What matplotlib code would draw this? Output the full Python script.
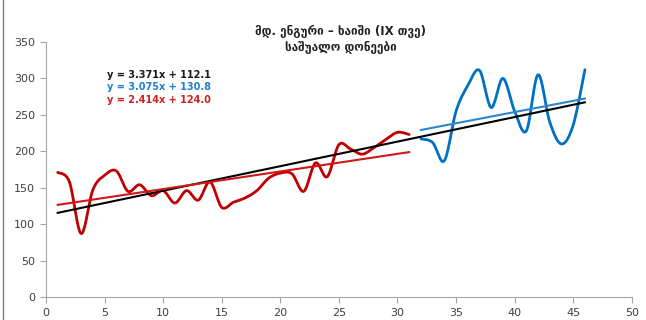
import numpy as np
import matplotlib
matplotlib.use("Agg")
import matplotlib.pyplot as plt
from matplotlib.lines import Line2D

# ---- data ----
red_x = list(range(1, 32))
red_y = [171, 158, 87, 147, 167, 173, 145, 154, 139, 146, 129, 146, 133, 158, 123,
         130, 136, 146, 163, 170, 169, 145, 184, 165, 209, 203, 196, 205, 216, 226, 223]
blue_x = list(range(32, 47))
blue_y = [217, 212, 187, 255, 290, 311, 260, 300, 255, 228, 305, 240, 210, 236, 312]

# trend equations shown on chart (slope, intercept)
trend_all = (3.371, 112.1)
trend_blue = (3.075, 130.8)
trend_red = (2.414, 124.0)

title_lines = ["მდ. ენგური – ხაიში (IX თვე)", "საშუალო დონეები"]
eq_labels = ["y = 3.371x + 112.1", "y = 3.075x + 130.8", "y = 2.414x + 124.0"]

x_ticks = list(range(0, 51, 5))
y_ticks = list(range(0, 351, 50))

RED = "#C00000"
BLUE = "#0070C0"


def smooth(x, y, n=20):
    """Catmull-Rom style smoothing similar to a spreadsheet's smoothed line."""
    x = np.asarray(x, float)
    y = np.asarray(y, float)
    P = np.column_stack([x, y])
    P = np.vstack([P[0], P, P[-1]])
    out = []
    t = np.linspace(0, 1, n, endpoint=False)
    for i in range(1, len(P) - 2):
        p0, p1, p2, p3 = P[i - 1], P[i], P[i + 1], P[i + 2]
        c1 = p1 + (p2 - p0) / 6.0
        c2 = p2 - (p3 - p1) / 6.0
        tt = t[:, None]
        seg = ((1 - tt) ** 3) * p1 + 3 * ((1 - tt) ** 2) * tt * c1 + 3 * (1 - tt) * tt ** 2 * c2 + tt ** 3 * p2
        out.append(seg)
    out.append(P[-2][None, :])
    out = np.vstack(out)
    return out[:, 0], out[:, 1]


fig = plt.figure(figsize=(6.46, 3.2), dpi=100)
ax = fig.add_axes([0.0712, 0.0719, 0.9068, 0.797])

sx, sy = smooth(red_x, red_y)
ax.plot(sx, sy, color=RED, lw=2.0, solid_capstyle="round", zorder=3)
bx, by = smooth(blue_x, blue_y)
ax.plot(bx, by, color=BLUE, lw=2.0, solid_capstyle="round", zorder=3)

# trendlines
all_x = np.array([min(red_x), max(blue_x)], float)
ax.plot(all_x, trend_all[0] * all_x + trend_all[1], color="black", lw=1.5, zorder=4)
rx = np.array([min(red_x), max(red_x)], float)
ax.plot(rx, trend_red[0] * rx + trend_red[1], color="#D01818", lw=1.5, zorder=4)
bxx = np.array([min(blue_x), max(blue_x)], float)
ax.plot(bxx, trend_blue[0] * bxx + trend_blue[1], color="#2E86D0", lw=1.5, zorder=4)

ax.set_xlim(0, 50)
ax.set_ylim(0, 350)
ax.set_xticks(x_ticks)
ax.set_yticks(y_ticks)
for s in ["top", "right"]:
    ax.spines[s].set_visible(False)
for s in ["left", "bottom"]:
    ax.spines[s].set_color("#A6A6A6")
    ax.spines[s].set_linewidth(0.8)
ax.tick_params(axis="both", direction="out", length=4, width=0.8, color="#A6A6A6",
               labelsize=8, labelcolor="#404040", pad=4)

fig.text(0.527, 0.903, title_lines[0], ha="center", va="center", fontsize=8.5,
         fontweight="bold", color="#222222")
fig.text(0.527, 0.852, title_lines[1], ha="center", va="center", fontsize=8.5,
         fontweight="bold", color="#222222")

eq_colors = ["#1A1A1A", "#1F7FD0", "#D02020"]
for i, (lab, c) in enumerate(zip(eq_labels, eq_colors)):
    fig.text(0.165, 0.765 - i * 0.038, lab, ha="left", va="center", fontsize=7,
             fontweight="bold", color=c)

fig.add_artist(Line2D([0.005, 0.005], [0, 1], transform=fig.transFigure,
                      color="#808080", lw=1.0))

fig.savefig("out.png", dpi=100)
